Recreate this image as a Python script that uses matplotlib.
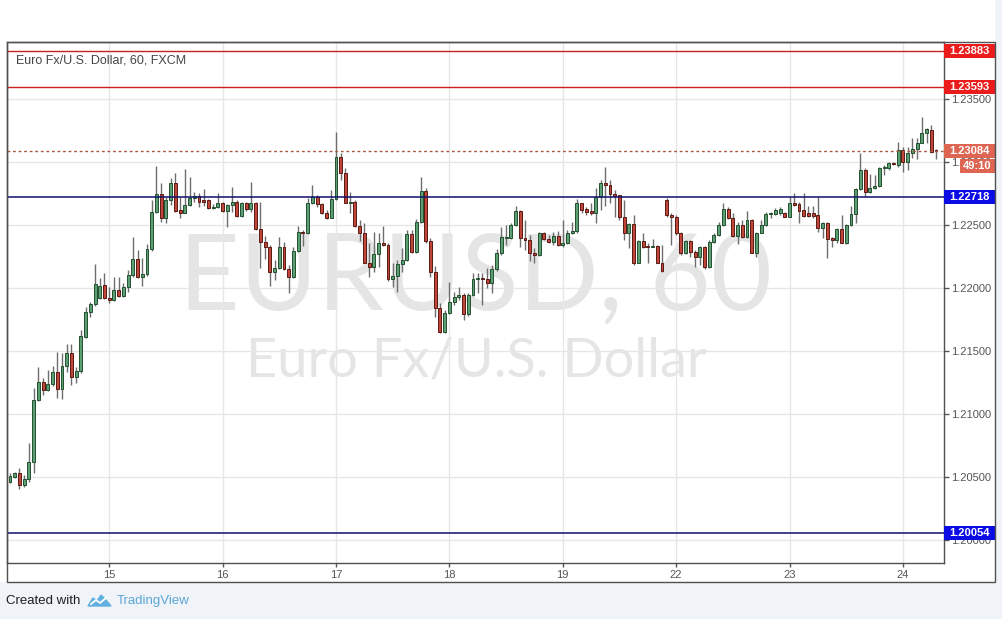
import numpy as np
import matplotlib
matplotlib.use("Agg")
import matplotlib.pyplot as plt
from matplotlib.patches import Rectangle, Polygon
from matplotlib.lines import Line2D
import matplotlib.transforms as mtransforms

# ---------------- data (EUR/USD, 60 min candles) ----------------
opens = [
    1.20463, 1.20503, 1.20529, 1.20437, 1.20481, 1.20616, 1.21111, 1.21251, 1.21191, 1.21236,
    1.21331, 1.21196, 1.21378, 1.21481, 1.21296, 1.21341, 1.21614, 1.21807, 1.21873, 1.21918,
    1.22024, 1.21921, 1.21905, 1.21984, 1.21939, 1.22005, 1.22101, 1.22230, 1.22085, 1.22112,
    1.22307, 1.22600, 1.22746, 1.22558, 1.22698, 1.22830, 1.22616, 1.22598, 1.22659, 1.22717,
    1.22730, 1.22698, 1.22698, 1.22632, 1.22646, 1.22677, 1.22614, 1.22659, 1.22685, 1.22574,
    1.22672, 1.22624, 1.22672, 1.22466, 1.22362, 1.22328, 1.22130, 1.22156, 1.22323, 1.22148,
    1.22085, 1.22294, 1.22442, 1.22434, 1.22672, 1.22720, 1.22664, 1.22598, 1.22558, 1.22706,
    1.23042, 1.22910, 1.22677, 1.22685, 1.22492, 1.22439, 1.22201, 1.22169, 1.22267, 1.22360,
    1.22344, 1.22069, 1.22095, 1.22190, 1.22222, 1.22429, 1.22286, 1.22524, 1.22770, 1.22376,
    1.22130, 1.21844, 1.21648, 1.21799, 1.21892, 1.21931, 1.21947, 1.21794, 1.21944, 1.22071,
    1.22077, 1.22071, 1.22037, 1.22148, 1.22275, 1.22394, 1.22394, 1.22500, 1.22611, 1.22394,
    1.22381, 1.22280, 1.22259, 1.22434, 1.22386, 1.22368, 1.22413, 1.22341, 1.22360, 1.22434,
    1.22452, 1.22672, 1.22627, 1.22611, 1.22593, 1.22725, 1.22830, 1.22815, 1.22743, 1.22738,
    1.22566, 1.22434, 1.22508, 1.22201, 1.22373, 1.22333, 1.22323, 1.22333, 1.22201, 1.22698,
    1.22579, 1.22561, 1.22434, 1.22275, 1.22373, 1.22288, 1.22243, 1.22323, 1.22164, 1.22368,
    1.22421, 1.22500, 1.22624, 1.22553, 1.22413, 1.22500, 1.22402, 1.22540, 1.22280, 1.22439,
    1.22500, 1.22585, 1.22587, 1.22593, 1.22598, 1.22566, 1.22672, 1.22667, 1.22619, 1.22598,
    1.22598, 1.22579, 1.22479, 1.22519, 1.22394, 1.22381, 1.22468, 1.22360, 1.22500, 1.22587,
    1.22783, 1.22937, 1.22765, 1.22791, 1.22809, 1.22950, 1.22950, 1.22989, 1.22976, 1.23095,
    1.23003, 1.23069, 1.23101, 1.23153, 1.23228, 1.23254, 1.23095,
]
highs = [
    1.20529, 1.20542, 1.20569, 1.20516, 1.20767, 1.21204, 1.21376, 1.21283, 1.21349, 1.21384,
    1.21492, 1.21487, 1.21555, 1.21555, 1.21376, 1.21667, 1.21852, 1.21892, 1.22191, 1.22077,
    1.22116, 1.22005, 1.22085, 1.22085, 1.22042, 1.22143, 1.22402, 1.22302, 1.22237, 1.22347,
    1.22698, 1.22971, 1.22830, 1.22725, 1.22870, 1.22910, 1.22725, 1.22944, 1.22878, 1.22765,
    1.22757, 1.22783, 1.22704, 1.22665, 1.22757, 1.22685, 1.22667, 1.22804, 1.22698, 1.22685,
    1.22685, 1.22844, 1.22685, 1.22685, 1.22413, 1.22341, 1.22222, 1.22407, 1.22362, 1.22183,
    1.22328, 1.22492, 1.22460, 1.22712, 1.22817, 1.22738, 1.22672, 1.22619, 1.22778, 1.23240,
    1.23069, 1.22950, 1.22765, 1.22698, 1.22540, 1.22513, 1.22360, 1.22447, 1.22434, 1.22492,
    1.22355, 1.22196, 1.22222, 1.22315, 1.22460, 1.22460, 1.22545, 1.22878, 1.22791, 1.22394,
    1.22177, 1.21878, 1.21825, 1.22045, 1.21971, 1.22010, 1.21958, 1.21958, 1.22116, 1.22116,
    1.22116, 1.22156, 1.22183, 1.22307, 1.22487, 1.22500, 1.22513, 1.22651, 1.22619, 1.22540,
    1.22421, 1.22315, 1.22447, 1.22447, 1.22421, 1.22447, 1.22452, 1.22540, 1.22460, 1.22526,
    1.22704, 1.22677, 1.22646, 1.22672, 1.22791, 1.22857, 1.22963, 1.22857, 1.22778, 1.22738,
    1.22698, 1.22513, 1.22579, 1.22381, 1.22434, 1.22354, 1.22386, 1.22341, 1.22341, 1.22712,
    1.22593, 1.22579, 1.22447, 1.22381, 1.22381, 1.22302, 1.22333, 1.22333, 1.22381, 1.22434,
    1.22526, 1.22677, 1.22640, 1.22593, 1.22526, 1.22540, 1.22614, 1.22545, 1.22447, 1.22540,
    1.22606, 1.22606, 1.22632, 1.22646, 1.22606, 1.22720, 1.22751, 1.22685, 1.22757, 1.22651,
    1.22651, 1.22725, 1.22526, 1.22526, 1.22407, 1.22474, 1.22579, 1.22508, 1.22651, 1.22791,
    1.23069, 1.22950, 1.22905, 1.22897, 1.22963, 1.22976, 1.23003, 1.22997, 1.23161, 1.23122,
    1.23122, 1.23188, 1.23188, 1.23360, 1.23267, 1.23294, 1.23100,
]
lows = [
    1.20450, 1.20490, 1.20402, 1.20423, 1.20463, 1.20529, 1.21106, 1.21151, 1.21185, 1.21225,
    1.21124, 1.21116, 1.21336, 1.21230, 1.21243, 1.21328, 1.21601, 1.21773, 1.21860, 1.21913,
    1.21913, 1.21884, 1.21900, 1.21931, 1.21931, 1.21966, 1.22085, 1.22077, 1.22016, 1.22098,
    1.22296, 1.22593, 1.22526, 1.22519, 1.22659, 1.22606, 1.22553, 1.22593, 1.22651, 1.22685,
    1.22646, 1.22651, 1.22624, 1.22624, 1.22632, 1.22606, 1.22487, 1.22606, 1.22566, 1.22566,
    1.22614, 1.22606, 1.22460, 1.22156, 1.22228, 1.22019, 1.22063, 1.22151, 1.22143, 1.21958,
    1.22077, 1.22288, 1.22333, 1.22429, 1.22667, 1.22646, 1.22587, 1.22550, 1.22553, 1.22698,
    1.22857, 1.22672, 1.22593, 1.22487, 1.22376, 1.22196, 1.22090, 1.22130, 1.22169, 1.22333,
    1.22058, 1.22011, 1.21971, 1.22130, 1.22217, 1.22280, 1.22280, 1.22513, 1.22360, 1.22090,
    1.21772, 1.21640, 1.21640, 1.21794, 1.21865, 1.21905, 1.21746, 1.21780, 1.21937, 1.21958,
    1.21865, 1.21997, 1.21963, 1.22138, 1.22262, 1.22341, 1.22386, 1.22492, 1.22328, 1.22302,
    1.22214, 1.22201, 1.22254, 1.22381, 1.22360, 1.22341, 1.22333, 1.22328, 1.22349, 1.22429,
    1.22439, 1.22598, 1.22579, 1.22579, 1.22519, 1.22619, 1.22651, 1.22672, 1.22566, 1.22540,
    1.22381, 1.22315, 1.22183, 1.22196, 1.22315, 1.22196, 1.22323, 1.22196, 1.22130, 1.22561,
    1.22341, 1.22421, 1.22262, 1.22270, 1.22249, 1.22169, 1.22183, 1.22148, 1.22156, 1.22360,
    1.22413, 1.22492, 1.22545, 1.22407, 1.22347, 1.22394, 1.22394, 1.22275, 1.22249, 1.22434,
    1.22492, 1.22553, 1.22579, 1.22579, 1.22561, 1.22561, 1.22651, 1.22519, 1.22566, 1.22566,
    1.22553, 1.22447, 1.22394, 1.22235, 1.22328, 1.22360, 1.22354, 1.22349, 1.22492, 1.22519,
    1.22778, 1.22725, 1.22757, 1.22783, 1.22804, 1.22897, 1.22937, 1.22974, 1.22963, 1.22923,
    1.22937, 1.23029, 1.23021, 1.23148, 1.23148, 1.23074, 1.23026,
]
closes = [
    1.20508, 1.20534, 1.20437, 1.20481, 1.20616, 1.21111, 1.21251, 1.21191, 1.21236, 1.21331,
    1.21196, 1.21378, 1.21481, 1.21296, 1.21341, 1.21619, 1.21807, 1.21873, 1.22032, 1.22019,
    1.21918, 1.21905, 1.21984, 1.21939, 1.22005, 1.22101, 1.22230, 1.22085, 1.22112, 1.22307,
    1.22600, 1.22746, 1.22558, 1.22698, 1.22830, 1.22611, 1.22598, 1.22659, 1.22717, 1.22730,
    1.22685, 1.22685, 1.22632, 1.22645, 1.22677, 1.22614, 1.22659, 1.22685, 1.22574, 1.22672,
    1.22624, 1.22672, 1.22466, 1.22362, 1.22328, 1.22130, 1.22156, 1.22328, 1.22148, 1.22085,
    1.22294, 1.22442, 1.22434, 1.22672, 1.22720, 1.22664, 1.22598, 1.22558, 1.22706, 1.23042,
    1.22910, 1.22677, 1.22685, 1.22492, 1.22439, 1.22201, 1.22169, 1.22267, 1.22360, 1.22344,
    1.22069, 1.22095, 1.22190, 1.22222, 1.22429, 1.22286, 1.22524, 1.22770, 1.22376, 1.22130,
    1.21844, 1.21648, 1.21799, 1.21892, 1.21931, 1.21947, 1.21794, 1.21947, 1.22071, 1.22077,
    1.22071, 1.22037, 1.22148, 1.22275, 1.22407, 1.22407, 1.22500, 1.22611, 1.22394, 1.22381,
    1.22280, 1.22259, 1.22434, 1.22386, 1.22368, 1.22413, 1.22341, 1.22360, 1.22434, 1.22452,
    1.22672, 1.22619, 1.22606, 1.22593, 1.22725, 1.22830, 1.22815, 1.22743, 1.22730, 1.22566,
    1.22434, 1.22508, 1.22201, 1.22373, 1.22323, 1.22323, 1.22333, 1.22201, 1.22138, 1.22579,
    1.22561, 1.22434, 1.22275, 1.22373, 1.22288, 1.22243, 1.22323, 1.22164, 1.22368, 1.22421,
    1.22500, 1.22624, 1.22553, 1.22413, 1.22500, 1.22402, 1.22540, 1.22280, 1.22439, 1.22500,
    1.22587, 1.22593, 1.22619, 1.22624, 1.22566, 1.22672, 1.22659, 1.22614, 1.22571, 1.22571,
    1.22571, 1.22479, 1.22519, 1.22386, 1.22381, 1.22468, 1.22360, 1.22500, 1.22587, 1.22783,
    1.22937, 1.22765, 1.22791, 1.22809, 1.22950, 1.22963, 1.22989, 1.22981, 1.23095, 1.23003,
    1.23074, 1.23101, 1.23153, 1.23228, 1.23260, 1.23082, 1.23084,
]

day_labels = ["15", "16", "17", "18", "19", "22", "23", "24"]
day_positions = [21, 45, 69, 93, 117, 141, 165, 189]
price_ticks = [1.20000, 1.20500, 1.21000, 1.21500, 1.22000, 1.22500, 1.23000, 1.23500]
red_levels = [1.23883, 1.23593]
blue_levels = [1.22718, 1.20054]
last_price = 1.23084
countdown = "49:10"
title = "Euro Fx/U.S. Dollar, 60, FXCM"
watermark_symbol = "EURUSD, 60"
watermark_name = "Euro Fx/U.S. Dollar"

# ---------------- figure / layout ----------------
W, H = 1002, 619
fig = plt.figure(figsize=(W / 100, H / 100), dpi=100)
fig.patch.set_facecolor("#f0f3f8")

def fx(x):
    return x / W

def fy(y):
    return 1 - y / H

fig.add_artist(Rectangle((0, fy(582)), fx(995), 1 - fy(582), transform=fig.transFigure,
                         facecolor="white", edgecolor="none", zorder=-5))

ax = fig.add_axes([fx(7), fy(563), fx(944) - fx(7), fy(42) - fy(563)])
ax.set_facecolor("white")
ax.set_axisbelow(True)

n = len(closes)
xs = np.arange(n)
o = np.array(opens)
h = np.array(highs)
l = np.array(lows)
c = np.array(closes)

ymin, ymax = 1.19817, 1.23952
ax.set_ylim(ymin, ymax)
ax.set_xlim(-0.635, 197.69)
px = (ymax - ymin) / 521.0  # price per pixel

UI = "Liberation Sans"
axis_col = "#555555"

# grid / ticks
ax.set_xticks(day_positions)
ax.set_xticklabels(day_labels)
ax.set_yticks(price_ticks)
ax.set_yticklabels(["%.5f" % p for p in price_ticks])
ax.yaxis.tick_right()
ax.grid(True, color="#e6e6e6", lw=1)
ax.tick_params(axis="x", direction="out", length=3, width=1, color=axis_col, pad=2,
               labelsize=8, labelcolor=axis_col)
ax.tick_params(axis="y", direction="out", length=3.5, width=1, color=axis_col, pad=1.5,
               labelsize=8, labelcolor=axis_col)
for lab in ax.get_xticklabels() + ax.get_yticklabels():
    lab.set_fontfamily(UI)
for s in ax.spines.values():
    s.set_color("#505050")
    s.set_linewidth(1)

# watermark
ax.text(0.4995, 0.4856, watermark_symbol, transform=ax.transAxes, ha="center", va="baseline",
        fontsize=76, color="#e5e5e5", family="Lato", zorder=0.2)
ax.text(0.5005, 0.3580, watermark_name, transform=ax.transAxes, ha="center", va="baseline",
        fontsize=39, color="#e5e5e5", family="Lato", zorder=0.2)

# candles
up = c >= o
wick_col = "#6e6e6e"
ax.vlines(xs, l, h, color=wick_col, lw=1, zorder=3)
body_bottom = np.minimum(o, c)
body_h = np.maximum(np.abs(c - o), 0.6 * px)
ax.bar(xs[up], body_h[up], bottom=body_bottom[up], width=0.62,
       color="#5c9f74", edgecolor="#24502f", linewidth=0.7, zorder=4)
ax.bar(xs[~up], body_h[~up], bottom=body_bottom[~up], width=0.62,
       color="#c0463a", edgecolor="#5a1a14", linewidth=0.7, zorder=4)

# horizontal levels
for lv in red_levels:
    ax.axhline(lv, color="#cc1f1f", lw=1, zorder=5)
for lv in blue_levels:
    ax.axhline(lv, color="#10106e", lw=1.1, zorder=5)
ax.axhline(last_price, color="#a8583e", lw=1, ls=(0, (2, 2)), zorder=5)

# price labels on the right axis
trans = mtransforms.blended_transform_factory(ax.transAxes, ax.transData)
plot_w = 937.0
half = 7 * px

def price_box(price, text, color, x0=944, x1=995, dy=0):
    ax.add_patch(Rectangle(((x0 - 7) / plot_w, price - half + dy), (x1 - x0) / plot_w, 2 * half,
                           transform=trans, facecolor=color, edgecolor="none",
                           clip_on=False, zorder=10))
    ax.text(((x0 + x1) / 2 - 7) / plot_w, price + dy, text, transform=trans,
            ha="center", va="center", color="white", fontsize=8, fontweight="bold",
            family=UI, clip_on=False, zorder=11)

for lv in red_levels:
    price_box(lv, "%.5f" % lv, "#ec1c1c")
for lv in blue_levels:
    price_box(lv, "%.5f" % lv, "#0b0be6")
price_box(last_price, "%.5f" % last_price, "#dd6552")
price_box(last_price, countdown, "#dd6552", x0=960, x1=995, dy=-15 * px)

# outer frame (price + time axes)
fig.add_artist(Rectangle((fx(7), fy(582)), fx(995) - fx(7), fy(42) - fy(582),
                         transform=fig.transFigure, fill=False, edgecolor="#505050", lw=1, zorder=20))

# title
fig.text(fx(15.5), fy(60.5), title, ha="left", va="center", fontsize=9, color="#454545",
         family=UI)

# footer
fig.text(fx(6), fy(601), "Created with", ha="left", va="center", fontsize=9.5, color="#1e1e1e",
         family=UI)
logo = [(88, 606), (93, 598), (97, 601), (101, 595), (106, 600), (111, 606)]
fig.add_artist(Polygon([(fx(a), fy(b)) for a, b in logo], closed=True, transform=fig.transFigure,
                       facecolor="#5fb0e0", edgecolor="#5fb0e0", lw=1))
fig.add_artist(Line2D([fx(91), fx(96), fx(100), fx(106)], [fy(604), fy(600), fy(603), fy(598)],
                      transform=fig.transFigure, color="white", lw=1.3))
fig.text(fx(117), fy(601), "TradingView", ha="left", va="center", fontsize=9.5, color="#5aa7d6",
         family=UI)

fig.savefig("out.png", dpi=100, facecolor=fig.get_facecolor())
